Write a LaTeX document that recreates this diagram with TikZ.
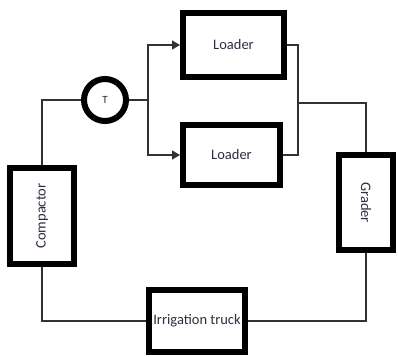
\documentclass[tikz,border=0pt]{standalone}
\usepackage{fontspec}
\setmainfont{Carlito}
\usetikzlibrary{arrows.meta}
\definecolor{txt}{RGB}{45,45,65}
\definecolor{wire}{RGB}{50,50,50}
\begin{document}
\begin{tikzpicture}[x=1pt,y=-1pt,
  blk/.style={draw=black,line width=6pt,rectangle,inner sep=0pt,fill=white,
    font=\fontsize{14.5}{16}\selectfont,text=txt},
  wire/.style={draw=wire,line width=1.4pt},
  arr/.style={wire,-{Triangle[length=8pt,width=9pt]}}]
\useasboundingbox (0,0) rectangle (398,356);
\node[blk,minimum width=101pt,minimum height=64pt] (l1) at (233.5,45) {Loader};
\node[blk,minimum width=97pt,minimum height=60pt] (l2) at (231.5,155) {Loader};
\node[blk,circle,minimum size=42pt,font=\fontsize{11}{12}\selectfont] (t) at (105,100) {T};
\node[blk,minimum width=64pt,minimum height=96pt] (c) at (42,216) {\rotatebox{90}{Compactor}};
\node[blk,minimum width=54pt,minimum height=95pt] (g) at (366,202.5) {\rotatebox{-90}{Grader}};
\node[blk,minimum width=96pt,minimum height=62pt] (it) at (197,321) {Irrigation truck};
\coordinate (sp) at (148,100);
\coordinate (jr) at (298,103);
\draw[wire] (c.north) |- (t.west);
\draw[wire] (t.east) -- (sp);
\draw[arr] (sp) |- (l1.west);
\draw[arr] (sp) |- (l2.west);
\draw[wire] (l1.east) -| (jr);
\draw[wire] (l2.east) -| (jr);
\draw[wire] (jr) -| (g.north);
\draw[wire] (g.south) |- (it.east);
\draw[wire] (c.south) |- (it.west);
\end{tikzpicture}
\end{document}
